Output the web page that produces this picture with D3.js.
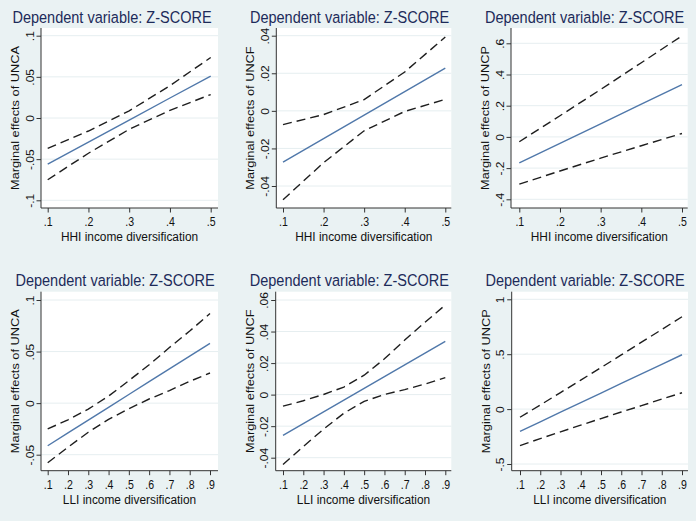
<!DOCTYPE html>
<html><head><meta charset="utf-8">
<script src="https://cdn.jsdelivr.net/npm/d3@7"></script>
<style>body{margin:0;background:#fff} svg{display:block}</style>
</head><body>
<svg id="chart" width="700" height="521"></svg>
<script>
// ---------- DATA ----------
const titleText = "Dependent variable: Z-SCORE";
const xHHI = [0.1, 0.2, 0.3, 0.4, 0.5];
const xLLI = [0.1, 0.2, 0.3, 0.4, 0.5, 0.6, 0.7, 0.8, 0.9];
const xTicksHHI = [0.1, 0.2, 0.3, 0.4, 0.5];
const xTicksLLI = [0.1, 0.2, 0.3, 0.4, 0.5, 0.6, 0.7, 0.8, 0.9];

// Panel 1: UNCA vs HHI
const uncaHHI_me = [-0.056, -0.0293, -0.0025, 0.0243, 0.051];
const uncaHHI_hi = [-0.037, -0.0158, 0.0087, 0.0393, 0.0735];
const uncaHHI_lo = [-0.075, -0.0428, -0.0137, 0.0093, 0.0285];
const yTicksUNCA_HHI = [-0.1, -0.05, 0, 0.05, 0.1];

// Panel 2: UNCF vs HHI
const uncfHHI_me = [-0.0273, -0.0148, -0.0023, 0.0102, 0.0227];
const uncfHHI_hi = [-0.0073, -0.002, 0.006, 0.0207, 0.0393];
const uncfHHI_lo = [-0.0473, -0.0276, -0.0106, -0.0003, 0.0061];
const yTicksUNCF_HHI = [-0.04, -0.02, 0, 0.02, 0.04];

// Panel 3: UNCP vs HHI
const uncpHHI_me = [-0.167, -0.0415, 0.084, 0.2095, 0.335];
const uncpHHI_hi = [-0.031, 0.1355, 0.304, 0.4755, 0.648];
const uncpHHI_lo = [-0.303, -0.2185, -0.136, -0.0565, 0.022];
const yTicksUNCP_HHI = [-0.4, -0.2, 0, 0.2, 0.4, 0.6];

// Panel 4: UNCA vs LLI
const uncaLLI_me = [-0.0413, -0.0289, -0.0165, -0.0041, 0.0084, 0.0208, 0.0332, 0.0456, 0.058];
const uncaLLI_hi = [-0.025, -0.0162, -0.0058, 0.0068, 0.0218, 0.0372, 0.0539, 0.0699, 0.0869];
const uncaLLI_lo = [-0.0578, -0.0428, -0.0282, -0.0158, -0.0055, 0.004, 0.0122, 0.0211, 0.0292];
const yTicksUNCA_LLI = [-0.05, 0, 0.05, 0.1];

// Panel 5: UNCF vs LLI
const uncfLLI_me = [-0.0258, -0.0184, -0.0109, -0.0035, 0.004, 0.0114, 0.0189, 0.0263, 0.0338];
const uncfLLI_hi = [-0.0073, -0.0039, 0.0001, 0.0048, 0.0123, 0.0227, 0.0346, 0.0459, 0.0568];
const uncfLLI_lo = [-0.0443, -0.0329, -0.0219, -0.0118, -0.0043, 0.0001, 0.0032, 0.0067, 0.0108];
const yTicksUNCF_LLI = [-0.04, -0.02, 0, 0.02, 0.04, 0.06];

// Panel 6: UNCP vs LLI
const uncpLLI_me = [-0.203, -0.1158, -0.0285, 0.0588, 0.146, 0.2333, 0.3205, 0.4078, 0.495];
const uncpLLI_hi = [-0.074, 0.0372, 0.1505, 0.2638, 0.378, 0.4933, 0.6095, 0.7248, 0.841];
const uncpLLI_lo = [-0.332, -0.2688, -0.2075, -0.1462, -0.086, -0.0267, 0.0315, 0.0908, 0.149];
const yTicksUNCP_LLI = [-0.5, 0, 0.5, 1];

const yTitles = ["Marginal effects of UNCA", "Marginal effects of UNCF", "Marginal effects of UNCP",
                 "Marginal effects of UNCA", "Marginal effects of UNCF", "Marginal effects of UNCP"];
const xTitles = ["HHI income diversification", "HHI income diversification", "HHI income diversification",
                 "LLI income diversification", "LLI income diversification", "LLI income diversification"];

// ---------- LAYOUT (pixels, not data) ----------
const panels = [
  {ox:0,   oy:0,   x:xHHI, me:uncaHHI_me, hi:uncaHHI_hi, lo:uncaHHI_lo, yT:yTicksUNCA_HHI, xT:xTicksHHI,
   axisX:41,   right:218,   top:28,   axisY:208,   yPx:[200.3,35.7], xPx:[47.7,210.7], tCx:112,   tY:22.5},
  {ox:233, oy:0,   x:xHHI, me:uncfHHI_me, hi:uncfHHI_hi, lo:uncfHHI_lo, yT:yTicksUNCF_HHI, xT:xTicksHHI,
   axisX:43.3, right:218.3, top:28,   axisY:208,   yPx:[186,35.7],   xPx:[50,212.3],   tCx:116.5, tY:22.5},
  {ox:466, oy:0,   x:xHHI, me:uncpHHI_me, hi:uncpHHI_hi, lo:uncpHHI_lo, yT:yTicksUNCP_HHI, xT:xTicksHHI,
   axisX:45,   right:221.7, top:28,   axisY:208,   yPx:[199.3,43.3], xPx:[53.3,216],   tCx:118.5, tY:22.5},
  {ox:0,   oy:260, x:xLLI, me:uncaLLI_me, hi:uncaLLI_hi, lo:uncaLLI_lo, yT:yTicksUNCA_LLI, xT:xTicksLLI,
   axisX:41,   right:218,   top:31.7, axisY:210.7, yPx:[194.7,40],   xPx:[47.7,210],   tCx:115,   tY:26},
  {ox:233, oy:260, x:xLLI, me:uncfLLI_me, hi:uncfLLI_hi, lo:uncfLLI_lo, yT:yTicksUNCF_LLI, xT:xTicksLLI,
   axisX:42.7, right:218.3, top:31.7, axisY:210.7, yPx:[197.7,40],   xPx:[50,212.3],   tCx:116.3, tY:26},
  {ox:466, oy:260, x:xLLI, me:uncpLLI_me, hi:uncpLLI_hi, lo:uncpLLI_lo, yT:yTicksUNCP_LLI, xT:xTicksLLI,
   axisX:45.7, right:222,   top:31.7, axisY:210.7, yPx:[204,39.3],   xPx:[54,216],     tCx:119,   tY:26}
];

const SX = 0.88; // horizontal squish of the source image
const FONT = "'Liberation Sans', Arial, Helvetica, sans-serif";
const fmt = d => d === 0 ? "0" : String(+d.toFixed(4)).replace("0.", ".");

const svg = d3.select("#chart");
svg.append("rect").attr("x", 0).attr("y", 0).attr("width", 696).attr("height", 521).attr("fill", "#eaf2f3");

panels.forEach((p, i) => {
  const g = svg.append("g").attr("transform", `translate(${p.ox},${p.oy})`);
  const xs = d3.scaleLinear().domain([p.xT[0], p.xT[p.xT.length - 1]]).range(p.xPx);
  const ys = d3.scaleLinear().domain([p.yT[0], p.yT[p.yT.length - 1]]).range(p.yPx);

  // plot region
  g.append("rect").attr("x", p.axisX).attr("y", p.top)
    .attr("width", p.right - p.axisX).attr("height", p.axisY - p.top).attr("fill", "#ffffff");

  // gridlines
  g.selectAll(".grid").data(p.yT).enter().append("line")
    .attr("x1", p.axisX).attr("x2", p.right)
    .attr("y1", d => ys(d)).attr("y2", d => ys(d))
    .attr("stroke", "#e6eef0").attr("stroke-width", 1);

  // y axis
  const yAxis = d3.axisLeft(ys).tickValues(p.yT).tickSize(4.5).tickSizeOuter(0).tickFormat(fmt);
  const ya = g.append("g").attr("transform", `translate(${p.axisX},0)`).call(yAxis);
  ya.select(".domain").attr("d", `M0,${p.top}V${p.axisY}`).attr("stroke", "#333");
  ya.selectAll(".tick line").attr("stroke", "#333");
  ya.selectAll(".tick text")
    .attr("x", null).attr("dy", null).attr("y", null)
    .attr("transform", `translate(-7.5,0) scale(${SX},1) rotate(-90)`)
    .attr("text-anchor", "middle")
    .attr("font-family", FONT).attr("font-size", 12).attr("fill", "#111");

  // x axis
  const xAxis = d3.axisBottom(xs).tickValues(p.xT).tickSize(4.5).tickSizeOuter(0).tickFormat(fmt);
  const xa = g.append("g").attr("transform", `translate(0,${p.axisY})`).call(xAxis);
  xa.select(".domain").attr("d", `M${p.axisX},0H${p.right}`).attr("stroke", "#333");
  xa.selectAll(".tick line").attr("stroke", "#333");
  xa.selectAll(".tick text")
    .attr("y", null).attr("dy", null)
    .attr("transform", `translate(0,18) scale(${SX},1)`)
    .attr("text-anchor", "middle")
    .attr("font-family", FONT).attr("font-size", 12).attr("fill", "#111");

  // lines
  const line = d3.line().x((d, k) => xs(p.x[k])).y(d => ys(d));
  g.append("path").attr("d", line(p.hi)).attr("fill", "none")
    .attr("stroke", "#1e1e1e").attr("stroke-width", 1.4).attr("stroke-dasharray", "9,5");
  g.append("path").attr("d", line(p.lo)).attr("fill", "none")
    .attr("stroke", "#1e1e1e").attr("stroke-width", 1.4).attr("stroke-dasharray", "9,5");
  g.append("path").attr("d", line(p.me)).attr("fill", "none")
    .attr("stroke", "#5078aa").attr("stroke-width", 1.4);

  // title
  g.append("text").text(titleText)
    .attr("transform", `translate(${p.tCx},${p.tY}) scale(${SX},1)`)
    .attr("text-anchor", "middle").attr("font-family", FONT).attr("font-size", 16.5).attr("fill", "#1d2b5a");

  // y title
  g.append("text").text(yTitles[i])
    .attr("transform", `translate(${p.axisX - 22},${(p.top + p.axisY) / 2}) scale(${SX},1) rotate(-90)`)
    .attr("text-anchor", "middle").attr("font-family", FONT).attr("font-size", 12.8).attr("fill", "#111");

  // x title
  g.append("text").text(xTitles[i])
    .attr("transform", `translate(${(p.axisX + p.right) / 2},${p.axisY + 33}) scale(${SX},1)`)
    .attr("text-anchor", "middle").attr("font-family", FONT).attr("font-size", 13.5).attr("fill", "#111");
});
</script>
</body></html>
